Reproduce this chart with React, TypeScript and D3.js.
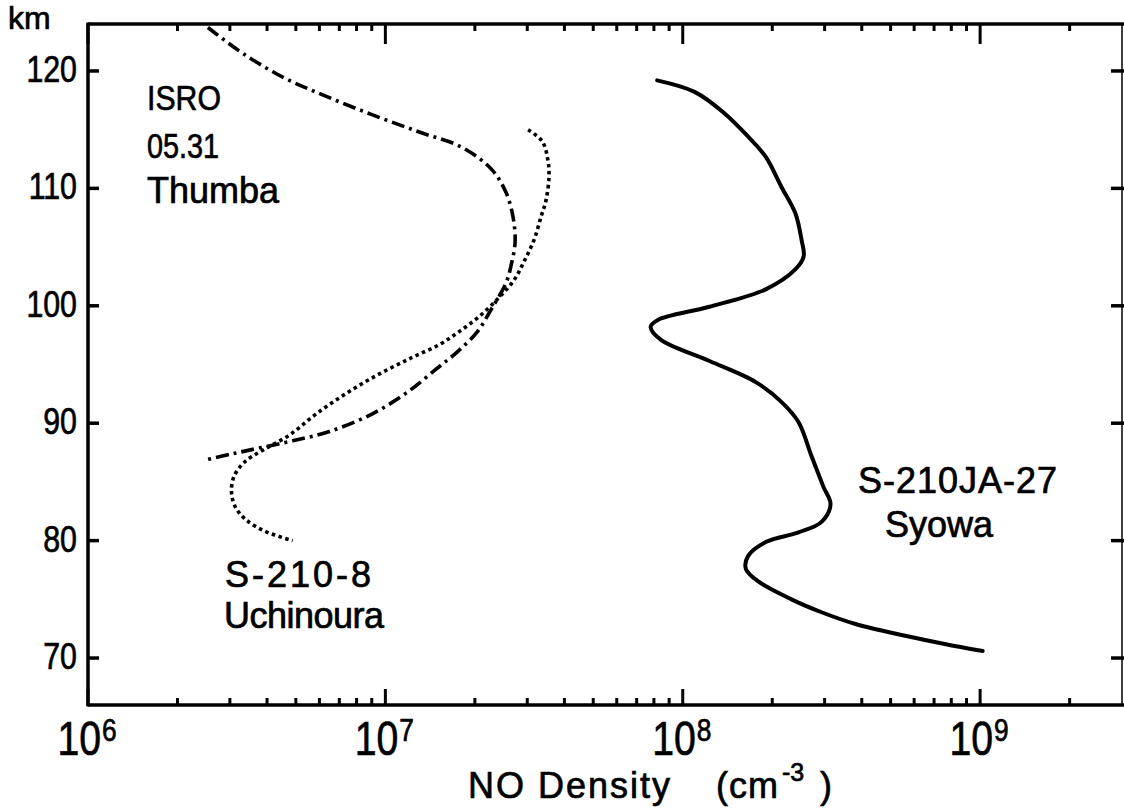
import React from "react";
import * as d3 from "d3";

// ---- data (altitude km, NO density cm^-3) ----
const syowaAlt = [119.2, 118.2, 116.4, 114.4, 112.7, 110.1, 107.9, 105.6, 104.2, 103.1, 101.4, 99.9, 98.8, 98.2, 97.1, 95.3, 93.5, 91.8, 90.1, 87.2, 84.6, 83.1, 81.6, 80.7, 79.9, 78.7, 77.6, 76.5, 75.0, 73.9, 72.9, 71.9, 71.2, 70.6];
const syowaDen = [8.2e7, 1.1e8, 1.38e8, 1.66e8, 1.9e8, 2.15e8, 2.39e8, 2.51e8, 2.55e8, 2.39e8, 1.9e8, 1.22e8, 8.25e7, 7.8e7, 8.45e7, 1.23e8, 1.76e8, 2.15e8, 2.45e8, 2.71e8, 2.97e8, 3.14e8, 2.93e8, 2.45e8, 1.91e8, 1.66e8, 1.63e8, 1.8e8, 2.32e8, 2.93e8, 3.81e8, 5.6e8, 7.6e8, 1.02e9];

const isroAlt = [123.7, 121.4, 119.4, 117.9, 116.3, 114.8, 113.5, 111.6, 109.6, 107.5, 105.4, 103.5, 102.0, 99.7, 97.8, 96.1, 94.6, 92.6, 90.8, 89.3, 88.5, 87.9, 87.4, 86.9];
const isroDen = [2.53e6, 3.36e6, 4.58e6, 6.24e6, 8.97e6, 1.3e7, 1.81e7, 2.28e7, 2.55e7, 2.69e7, 2.73e7, 2.65e7, 2.55e7, 2.27e7, 2.04e7, 1.75e7, 1.48e7, 1.18e7, 9.04e6, 6.49e6, 4.88e6, 3.78e6, 3.07e6, 2.51e6];

const uchiAlt = [115.0, 114.0, 112.4, 111.0, 109.0, 107.6, 105.6, 103.8, 102.2, 100.7, 99.1, 97.8, 96.7, 95.6, 94.2, 92.6, 90.8, 89.0, 87.7, 86.7, 85.4, 84.0, 82.8, 81.8, 80.8, 80.0];
const uchiDen = [3.02e7, 3.37e7, 3.52e7, 3.55e7, 3.47e7, 3.34e7, 3.16e7, 2.93e7, 2.71e7, 2.41e7, 2.07e7, 1.77e7, 1.52e7, 1.23e7, 9.55e6, 7.45e6, 5.86e6, 4.76e6, 3.87e6, 3.36e6, 3.09e6, 3.04e6, 3.14e6, 3.39e6, 3.93e6, 4.88e6];

const yTicks = [70, 80, 90, 100, 110, 120];
const xMajor = [1e6, 1e7, 1e8, 1e9];
const xMajorExp = ["6", "7", "8", "9"];

const W = 1124;
const H = 808;
const FONT = "'Liberation Sans', Arial, sans-serif";

export default function App() {
  const x = d3.scaleLog().domain([1e6, 3e9]).range([88, 1122]);
  const y = d3.scaleLinear().domain([66, 124]).range([705, 24]);
  const [x0, x1] = x.range();
  const [yb, yt] = y.range();

  const minor = x
    .ticks()
    .filter((t) => !xMajor.some((m) => Math.abs(m - t) / m < 1e-6))
    .filter((t) => x(t) < x1 - 2);

  const line = d3
    .line<[number, number]>()
    .x((d) => x(d[0]))
    .y((d) => y(d[1]))
    .curve(d3.curveCatmullRom.alpha(0.5));

  const zip = (den: number[], alt: number[]) => den.map((v, i) => [v, alt[i]] as [number, number]);

  const txt = { fill: "#000", stroke: "#000", strokeWidth: 0.7 };

  return (
    <svg
      width={W}
      height={H}
      style={{ position: "absolute", left: 0, top: 0, background: "#fff" }}
      fontFamily={FONT}
    >
      <rect x={0} y={0} width={W} height={H} fill="#fff" />
      {/* frame */}
      <g stroke="#000" strokeWidth={3.5} fill="none">
        <line x1={x0} y1={yt - 1.5} x2={x0} y2={yb + 1.5} />
        <line x1={x0} y1={yb} x2={W} y2={yb} />
        <line x1={x0} y1={yt} x2={W} y2={yt} />
        <line x1={x1} y1={yt} x2={x1} y2={yb} strokeWidth={1.5} />
      </g>
      {/* y ticks */}
      <g stroke="#000" strokeWidth={3.5}>
        {yTicks.map((t) => (
          <g key={"yt" + t}>
            <line x1={x0} x2={x0 + 11} y1={y(t)} y2={y(t)} />
            <line x1={x1 - 11} x2={x1 + 2} y1={y(t)} y2={y(t)} />
          </g>
        ))}
      </g>
      {/* x ticks */}
      <g stroke="#000" strokeWidth={3}>
        {xMajor.map((t) => (
          <g key={"xm" + t}>
            <line x1={x(t)} x2={x(t)} y1={yb} y2={yb - 16} />
            <line x1={x(t)} x2={x(t)} y1={yt} y2={yt + 20} />
          </g>
        ))}
        {minor.map((t) => (
          <g key={"xn" + t}>
            <line x1={x(t)} x2={x(t)} y1={yb} y2={yb - 7} />
            <line x1={x(t)} x2={x(t)} y1={yt} y2={yt + 7} />
          </g>
        ))}
      </g>
      {/* y labels */}
      {yTicks.map((t) => (
        <text
          key={"yl" + t}
          transform={`translate(77,${y(t) + 11}) scale(0.82,1)`}
          textAnchor="end"
          fontSize={37}
          {...txt}
        >
          {t}
        </text>
      ))}
      <text x={8} y={29} fontSize={32} {...txt}>
        km
      </text>
      {/* x labels */}
      {xMajor.map((t, i) => (
        <g key={"xl" + t}>
          <text
            transform={`translate(${x(t) + 13},755) scale(0.8,1)`}
            textAnchor="end"
            fontSize={49}
            {...txt}
          >
            10
          </text>
          <text
            transform={`translate(${x(t) + 14},741) scale(0.85,1)`}
            fontSize={31}
            {...txt}
          >
            {xMajorExp[i]}
          </text>
        </g>
      ))}
      {/* axis title */}
      <text x={468} y={798} fontSize={36} letterSpacing={2} {...txt}>
        NO Density
      </text>
      <text x={716} y={798} fontSize={36} letterSpacing={1} {...txt}>
        (cm
      </text>
      <text x={782} y={781} fontSize={25} {...txt}>
        -3
      </text>
      <text x={820} y={798} fontSize={36} {...txt}>
        )
      </text>
      {/* curves */}
      <path
        d={line(zip(syowaDen, syowaAlt)) || ""}
        fill="none"
        stroke="#000"
        strokeWidth={4}
        strokeLinejoin="round"
        strokeLinecap="round"
      />
      <path
        d={line(zip(isroDen, isroAlt)) || ""}
        fill="none"
        stroke="#000"
        strokeWidth={3.6}
        strokeDasharray="13 5 3 5"
      />
      <path
        d={line(zip(uchiDen, uchiAlt)) || ""}
        fill="none"
        stroke="#000"
        strokeWidth={3.6}
        strokeDasharray="3.5 3.5"
      />
      {/* annotations */}
      <g fontSize={36} {...txt}>
        <text transform="translate(147,110) scale(0.84,1)">ISRO</text>
        <text transform="translate(147,158) scale(0.8,1)">05.31</text>
        <text x={147} y={203}>Thumba</text>
        <text x={225} y={587} letterSpacing={3}>S-210-8</text>
        <text x={224} y={628} letterSpacing={-0.5}>Uchinoura</text>
        <text x={858} y={493} letterSpacing={1}>S-210JA-27</text>
        <text x={885} y={537}>Syowa</text>
      </g>
    </svg>
  );
}
